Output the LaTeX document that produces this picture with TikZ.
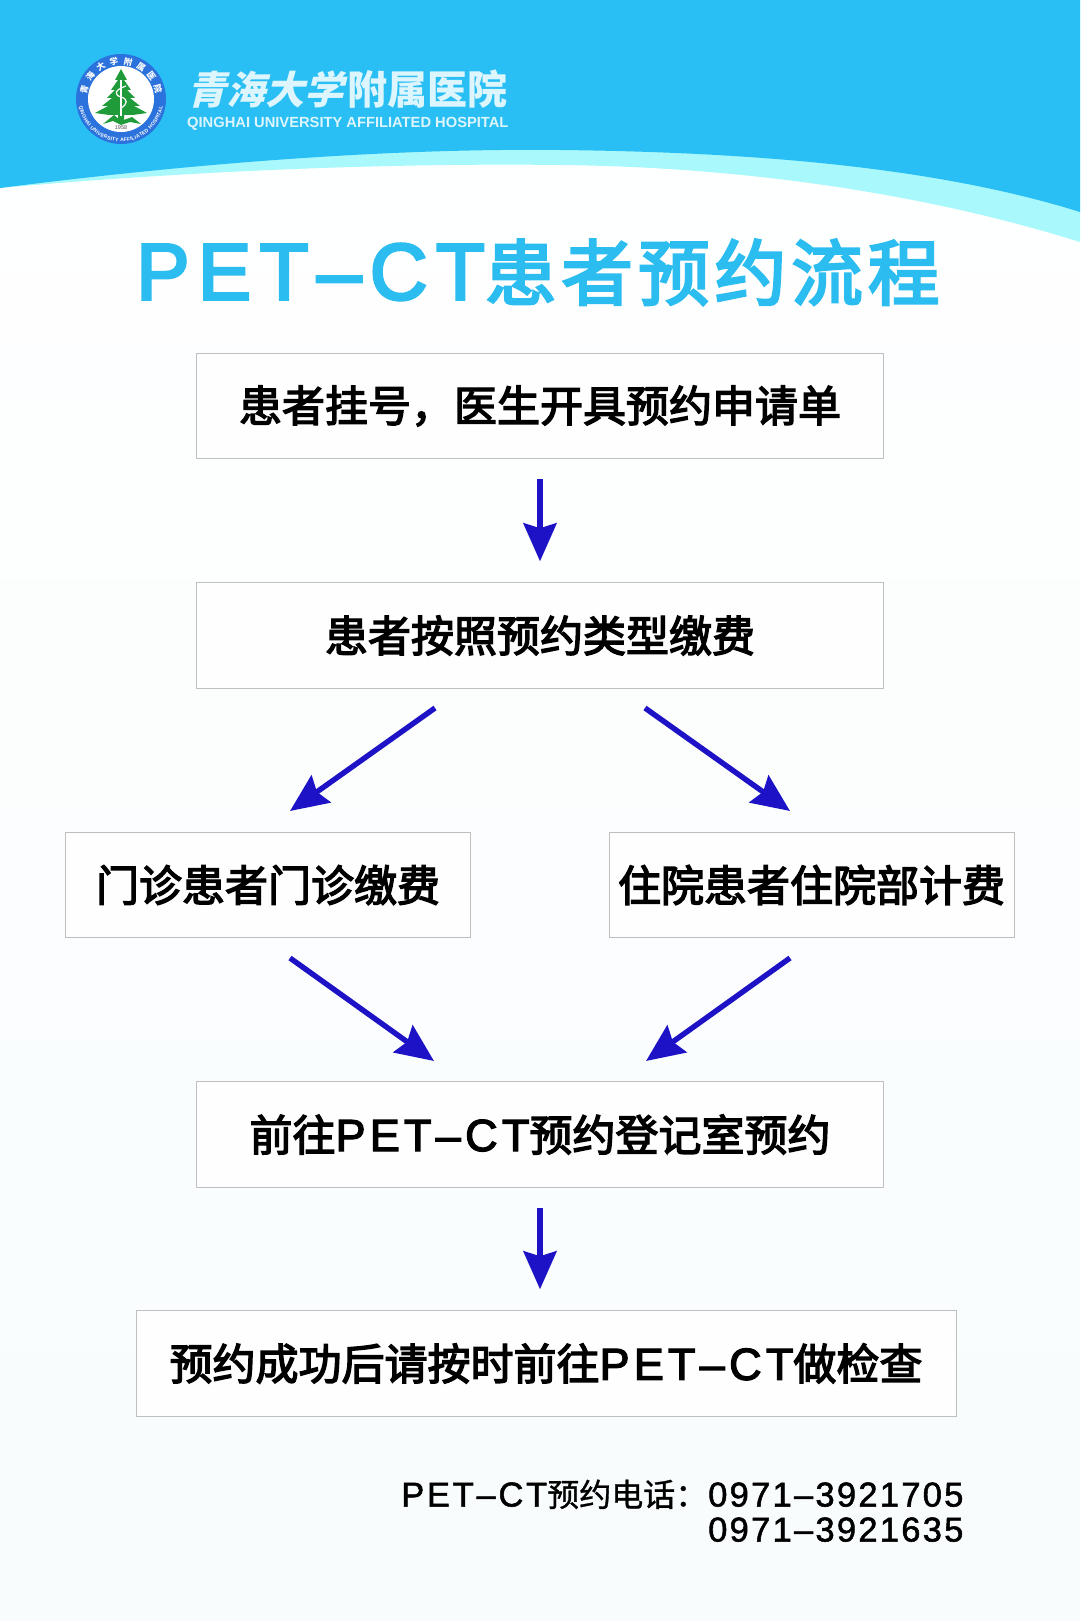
\documentclass[tikz,border=0pt]{standalone}
\usepackage{fontspec}
\usetikzlibrary{arrows.meta,decorations.text}
\setmainfont{Liberation Sans}
\newfontfamily\cjk{Noto Sans CJK SC}
\newfontfamily\cjkmed[FakeBold=3.2]{Noto Sans CJK SC}
\newfontfamily\cjkfoot[FakeBold=1]{Noto Sans CJK SC}
\newfontfamily\titlecn[LetterSpace=7,FakeBold=3.5]{Noto Sans CJK SC}
\newfontfamily\lattitle[FakeBold=3.5,LetterSpace=10.5]{Liberation Sans}
\newfontfamily\latbold[FakeBold=2.8,LetterSpace=9.5]{Liberation Sans}
\newfontfamily\latlabel[FakeBold=1.5,LetterSpace=8]{Liberation Sans}
\newfontfamily\latphone[FakeBold=1.5,LetterSpace=6.6]{Liberation Sans}
\newfontfamily\brush[FakeSlant=0.25]{Noto Sans CJK SC}
\newcommand{\fs}[1]{\fontsize{#1}{#1}\selectfont}
\newcommand{\cn}[1]{{\cjkmed\fs{43}#1}}
\newcommand{\lt}[1]{{\latbold\fs{45}#1}}
\definecolor{skyband}{HTML}{29BFF5}
\definecolor{paleband}{HTML}{A9F8FB}
\definecolor{titleblue}{HTML}{2BBDF0}
\definecolor{arrowblue}{HTML}{1D12C6}
\definecolor{boxline}{HTML}{BDBFC0}
\definecolor{sealblue}{HTML}{2C72DC}
\definecolor{treegreen}{HTML}{1F9B3A}
\definecolor{logotext}{HTML}{DDF5FD}
\definecolor{bgbottom}{HTML}{F8FCFD}
\tikzset{
  stepbox/.style={draw=boxline,line width=1pt,fill=white,fill opacity=0.85,text opacity=1,inner sep=0pt,minimum height=105.5pt,text=black,align=center},
  flowarrow/.style={draw=arrowblue,line width=5.4pt,-{Stealth[length=38pt,width=33pt,inset=5pt]}},
}
\begin{document}
\begin{tikzpicture}[x=1pt,y=-1pt]
\useasboundingbox (0,0) rectangle (1080,1621);
% background
\shade[top color=white,bottom color=bgbottom] (0,0) rectangle (1080,1621);
\fill[paleband] (0,188) .. controls (200,170) and (400,163) .. (560,165) .. controls (750,167) and (930,195) .. (1080,242) -- (1080,0) -- (0,0) -- cycle;
\fill[skyband] (0,188) .. controls (180,165) and (380,148) .. (560,150) .. controls (740,152) and (930,165) .. (1080,212) -- (1080,0) -- (0,0) -- cycle;
% seal
\fill[sealblue] (121,99) circle (45);
\fill[white] (121,99) circle (33);
\fill[treegreen] (121,69) -- (127,80) -- (124,80) -- (131,90) -- (127,90) -- (135,98) -- (130,98) -- (140,106) -- (134,106) -- (147,113)
  -- (133,115) -- (124,115) -- (124,121) -- (118,121) -- (118,115) -- (109,115) -- (95,113) -- (108,106) -- (102,106) -- (112,98) -- (107,98) -- (115,90) -- (111,90) -- (118,80) -- (115,80) -- cycle;
\fill[treegreen] (103,124) -- (114,115) -- (121,121) -- (132,117) -- (141,124) -- (130,122) -- (121,125) -- (113,121) -- cycle;
\draw[white,line width=1.2pt] (121,80) -- (121,116);
\draw[white,line width=1.2pt] (126,86) .. controls (114,90) and (114,95) .. (121,97) .. controls (128,99) and (128,104) .. (121,108);
\node[inner sep=0pt] (sealyear) at (121,127.5) {\fs{5.5}\textcolor{black!70}{1958}};
\begin{scope}[shift={(121,99)},y=1pt]
\path[decorate,decoration={text along path,text align={fit to path},text={|\cjk\bfseries\fs{8.5}\color{white}|青海大学附属医院}}]
  (172:34.8) arc[start angle=172,end angle=8,radius=34.8];
\path[decorate,decoration={text along path,text align={fit to path},text={|\bfseries\fs{5}\color{white}|QINGHAI UNIVERSITY AFFILIATED HOSPITAL}}]
  (190:42.5) arc[start angle=190,end angle=350,radius=42.5];
\end{scope}
% logo text
\node[anchor=base west,inner sep=0pt,text=logotext] (logocn1) at (187,105) {\brush\bfseries\fs{39}青海大学};
\node[anchor=base west,inner sep=0pt,text=logotext] (logocn2) at (347,105) {\cjk\bfseries\fs{40}附属医院};
\node[anchor=base west,inner sep=0pt,text=logotext] (logoen) at (187,127.5) {\bfseries\fs{14.7}QINGHAI UNIVERSITY AFFILIATED HOSPITAL};
% title
\node[anchor=base west,inner sep=0pt,text=titleblue] (maintitle) at (136,299.5)
  {{\lattitle\fs{80}PET–CT}{\titlecn\fs{71.6}患者预约流程}};
% boxes
\node[stepbox,minimum width=687pt] (b1) at (540,406) {\cn{患者挂号，医生开具预约申请单}};
\node[stepbox,minimum width=687pt] (b2) at (540,635.5) {\cn{患者按照预约类型缴费}};
\node[stepbox,minimum width=405pt] (b3) at (268,885) {\cn{门诊患者门诊缴费}};
\node[stepbox,minimum width=405pt] (b4) at (811.5,885) {\cn{住院患者住院部计费}};
\node[stepbox,minimum width=687pt] (b5) at (540,1134.5) {\cn{前往}\lt{PET–CT}\cn{预约登记室预约}};
\node[stepbox,minimum width=820pt] (b6) at (546,1363.5) {\cn{预约成功后请按时前往}\lt{PET–CT}\cn{做检查}};
% arrow ends
\coordinate (s2l) at (435,708);
\coordinate (t3) at (290,811);
\coordinate (s2r) at (645,708);
\coordinate (t4) at (790,811);
\coordinate (s3) at (290,958);
\coordinate (t5l) at (434,1061);
\coordinate (s4) at (790,958);
\coordinate (t5r) at (646,1061);
% connectors
\draw[flowarrow,shorten <=20pt,shorten >=21pt] (b1.south) -- (b2.north);
\draw[flowarrow] (s2l) -- (t3);
\draw[flowarrow] (s2r) -- (t4);
\draw[flowarrow] (s3) -- (t5l);
\draw[flowarrow] (s4) -- (t5r);
\draw[flowarrow,shorten <=20pt,shorten >=21pt] (b5.south) -- (b6.north-|b5.south);
% footer
\node[anchor=base west,inner sep=0pt] (tellabel) at (401,1506.5) {{\latlabel\fs{34.5}PET–CT}{\cjkfoot\fs{32}预约电话：}};
\node[anchor=base west,inner sep=0pt] (tel1) at (708,1506.5) {\latphone\fs{34.5}0971–3921705};
\node[anchor=base west,inner sep=0pt] (tel2) at (708,1541.5) {\latphone\fs{34.5}0971–3921635};
\end{tikzpicture}
\end{document}
